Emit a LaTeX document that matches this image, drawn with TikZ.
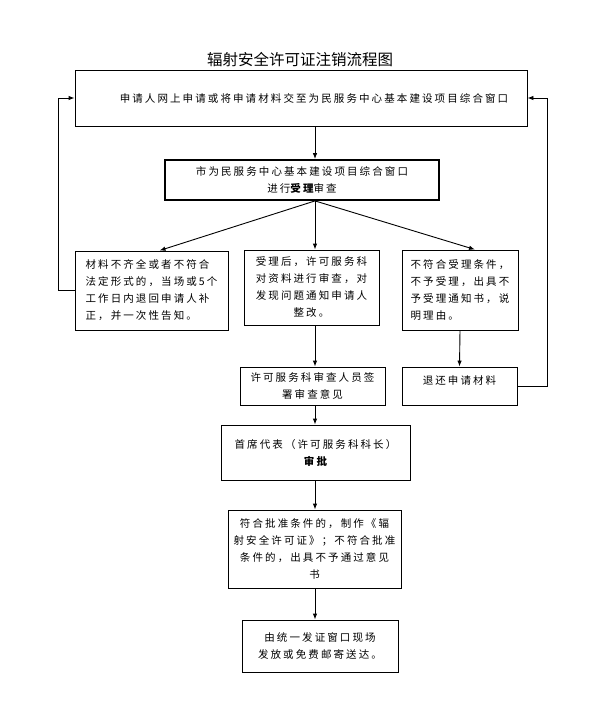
\documentclass[tikz,border=0pt]{standalone}
\usepackage{fontspec}
\newfontfamily\cjk[LetterSpace=20]{Noto Sans CJK SC}
\newfontfamily\cjktitle{Noto Sans CJK SC}
\usetikzlibrary{arrows.meta}

\tikzset{
  box/.style={draw, line width=0.9pt, inner sep=0pt, align=center,
    font=\cjk\fontsize{10.5}{17}\selectfont},
  arr/.style={-{Latex[length=6pt,width=4.5pt]}, line width=0.9pt},
}

\begin{document}
\begin{tikzpicture}[x=1pt, y=-1pt]
    \useasboundingbox (0,0) rectangle (592,707);
    \coordinate (spine) at (315,0);
    \coordinate (leftrail) at (58,0);
    \coordinate (rightrail) at (547,0);

    % title
    \node (title) at (300,60) {\cjktitle\fontsize{15.5}{18}\selectfont 辐射安全许可证注销流程图};

    % boxes
    \node[box, minimum width=452, minimum height=56] (apply) at (301,98)
        {\hspace*{26pt}申请人网上申请或将申请材料交至为民服务中心基本建设项目综合窗口};
    \node[box, line width=1.8pt, minimum width=274, minimum height=40] (accept) at (302,180)
        {市为民服务中心基本建设项目综合窗口\\进行{\bfseries 受理}审查};
    \node[box, align=left, minimum width=153, minimum height=79] (supply) at (151.5,290.5)
        {材料不齐全或者不符合\\法定形式的，当场或5个\\工作日内退回申请人补\\正，并一次性告知。};
    \node[box, minimum width=135, minimum height=75] (review) at (311.5,287.5)
        {受理后，许可服务科\\对资料进行审查，对\\发现问题通知申请人\\整改。};
    \node[box, align=left, minimum width=116, minimum height=80] (refuse) at (460,290)
        {不符合受理条件，\\不予受理，出具不\\予受理通知书，说\\明理由。};
    \node[box, minimum width=145, minimum height=38] (sign) at (312.5,386)
        {许可服务科审查人员签\\署审查意见};
    \node[box, minimum width=115, minimum height=38, text depth=12pt] (return) at (459.5,386)
        {退还申请材料};
    \node[box, minimum width=189, minimum height=55] (approve) at (315.5,452.5)
        {首席代表（许可服务科科长）\\{\bfseries 审批}};
    \node[box, minimum width=173, minimum height=78] (issue) at (314.5,549)
        {符合批准条件的，制作《辐\\射安全许可证》；不符合批准\\条件的，出具不予通过意见\\书};
    \node[box, minimum width=156, minimum height=52] (deliver) at (320,646)
        {由统一发证窗口现场\\发放或免费邮寄送达。};

    % main flow
    \draw[arr] (apply.south -| spine) -- (accept.north -| spine);
    \draw[arr] (accept.south -| spine) -- ([xshift=8pt]supply.north);
    \draw[arr] (accept.south -| spine) -- (review.north -| spine);
    \draw[arr] (accept.south -| spine) -- ([xshift=15pt]refuse.north);
    \draw[arr] (review.south -| spine) -- (sign.north -| spine);
    \draw[arr] (refuse.south) -- (return.north);
    \draw[arr] (sign.south -| spine) -- (approve.north -| spine);
    \draw[arr] (approve.south -| spine) -- (issue.north -| spine);
    \draw[arr] (issue.south -| spine) -- (deliver.north -| spine);

    % back to the application
    \draw[arr] (supply.west) -- (supply.west -| leftrail) -- (apply.west -| leftrail) -- (apply.west);
    \draw[arr] (return.east) -- (return.east -| rightrail) -- (apply.east -| rightrail) -- (apply.east);
\end{tikzpicture}
\end{document}
